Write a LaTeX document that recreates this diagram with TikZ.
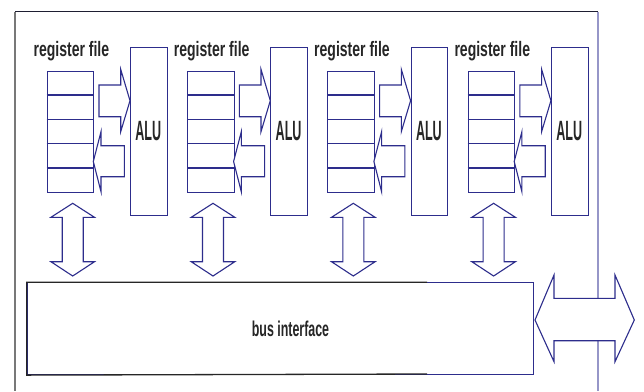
\documentclass[tikz,border=0pt]{standalone}
\usepackage{fontspec}
\setmainfont{Liberation Sans}
\definecolor{navy}{RGB}{45,45,140}
\definecolor{lightnavy}{RGB}{150,150,200}
\definecolor{framegray}{RGB}{120,120,120}
\definecolor{framedark}{RGB}{30,30,50}
\begin{document}
\begin{tikzpicture}[x=1bp,y=-1bp,
  blk/.style={draw=navy, line width=1.1bp},
  blockarrow/.style={draw=navy, fill=white, line width=1.1bp, line join=miter},
  rflabel/.style={font=\bfseries\fontsize{21}{21}\selectfont, inner sep=0, text=black!85},
  alulabel/.style={font=\bfseries\fontsize{28}{28}\selectfont, inner sep=0, text=black!85},
  buslabel/.style={font=\bfseries\fontsize{21.5}{21.5}\selectfont, inner sep=0, text=black!85}]
\useasboundingbox (0,0) rectangle (644,391);
\fill[white] (0,0) rectangle (644,391);
% outer frame
\draw[framegray, line width=1.1bp] (15,11.5) -- (15,391);
\draw[lightnavy, line width=1.3bp] (598,11.5) -- (598,391);
\draw[framedark, line width=1.4bp] (15,11.5) -- (598,11.5);
% units
\foreach \i in {0,1,2,3} {
  \begin{scope}[xshift={\i*140.3bp}]
    \node[blk, minimum width=46.6bp, minimum height=121.6bp, inner sep=0, anchor=north west] (reg\i) at (46.7,70.7) {};
    \foreach \k in {1,2,3,4} {
      \draw[navy, line width=1.1bp] (reg\i.north west) ++(0,{24.32*\k}) -- ++(46.6,0);
    }
    \node[rflabel, anchor=base] (rft\i) at (71.4,56.7) {\scalebox{0.67}[1]{register file}};
    \node[blk, minimum width=36.7bp, minimum height=168bp, inner sep=0, anchor=north west] (alu\i) at (130,47) {};
    \node[alulabel] (alut\i) at (148.3,131) {\scalebox{0.45}[1]{ALU}};
    % register -> ALU
    \draw[blockarrow] (99,85) -- (120.7,85) -- (120.7,69.3) -- (130,100.7) -- (120.7,131.7) -- (120.7,116.7) -- (99,116.7) -- cycle;
    % ALU -> register
    \draw[blockarrow] (124.3,145.7) -- (101,145.7) -- (101,131.7) -- (93.3,161.5) -- (101,191.7) -- (101,176.7) -- (124.3,176.7) -- cycle;
    % register <-> bus
    \draw[blockarrow] (62.2,217.3) -- (50.9,217.3) -- (72.7,203.3) -- (94.5,217.3) -- (83.2,217.3) -- (83.2,261.7) -- (94.5,261.7) -- (72.7,276) -- (50.9,261.7) -- (62.2,261.7) -- cycle;
  \end{scope}
}
% bus interface
\node[blk, minimum width=506.6bp, minimum height=91.7bp, inner sep=0, anchor=north west] (bus) at (26.7,282.3) {};
\draw[black!85, line width=1.3bp] (427,282.3) -- (bus.north west) -- (bus.south west) -- (427,374);
\node[buslabel, anchor=base] (bust) at (290.5,336) {\scalebox{0.58}[1]{bus interface}};
% external double arrow
\draw[blockarrow] (535,320) -- (554,275) -- (554,298.3) -- (615,298.3) -- (615,275) -- (634.3,320) -- (615,361.7) -- (615,340.7) -- (554,340.7) -- (554,361.7) -- cycle;
\end{tikzpicture}
\end{document}
